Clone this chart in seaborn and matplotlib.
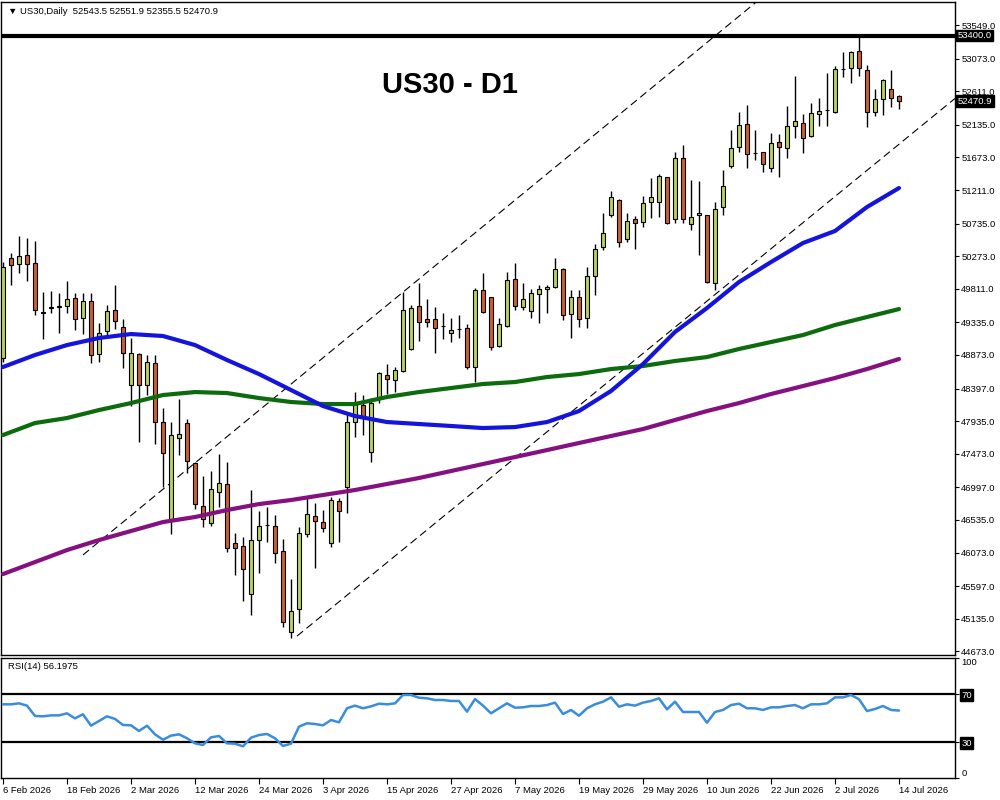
import numpy as np
import pandas as pd
import matplotlib
matplotlib.use('Agg')
import matplotlib.pyplot as plt
import matplotlib.transforms as mtransforms
import seaborn as sns

# daily candles (bar 0 = 6 Feb 2026)
opens = [48830, 50247, 50162, 50290, 50176, 49482, 49553, 49560, 49567, 49680,
         49397, 49638, 48887, 49213, 49510, 49269, 48448, 48887, 48448, 48759,
         47923, 46549, 47697, 47909, 47342, 46733, 46492, 46931, 47045, 46209,
         46166, 45486, 46251, 46460, 46450, 46095, 44948, 45273, 46336, 46591,
         46506, 46209, 46804, 47002, 47923, 48164, 47498, 48278, 48589, 48518,
         48646, 48958, 49567, 49383, 49383, 49290, 49184, 49235, 49255, 48703,
         49794, 49695, 49000, 49284, 49950, 49553, 49496, 49737, 49808, 49836,
         50091, 49454, 49695, 49397, 49992, 50403, 50856, 51069, 50516, 50800,
         50757, 51041, 51041, 51395, 50800, 51664, 50729, 50856, 50856, 49893,
         50970, 51551, 51820, 52146, 51740, 51749, 51522, 51891, 51806, 52118,
         52160, 51976, 52288, 52340, 52316, 52920, 52939, 53180, 52911, 52316,
         52500, 52642, 52543.5]
highs = [50190, 50318, 50559, 50531, 50488, 49765, 49780, 49751, 49921, 49751,
         49751, 49751, 49326, 49581, 49865, 49383, 49114, 48901, 48873, 48873,
         48122, 47923, 48249, 47966, 47357, 47158, 47229, 47470, 47357, 46350,
         46294, 46960, 46662, 46719, 46605, 46265, 45699, 46435, 46846, 46775,
         46676, 46861, 46846, 48051, 48348, 48306, 48263, 48632, 48745, 48703,
         49765, 49581, 49893, 49666, 49553, 49468, 49397, 49439, 49312, 49822,
         50035, 49700, 49397, 50049, 50176, 49893, 49808, 49865, 49865, 50247,
         50100, 49794, 49794, 50120, 50446, 50885, 51197, 51080, 50885, 50842,
         51126, 51381, 51437, 51400, 51749, 51848, 51352, 51338, 50860, 51041,
         51494, 52061, 52316, 52415, 52061, 51755, 52018, 52004, 52401, 52826,
         52288, 52443, 52514, 52869, 52968, 53166, 53180, 53400, 52982, 52642,
         52780, 52911, 52551.9]
lows = [48773, 49865, 50035, 49921, 49439, 49099, 49468, 49184, 49468, 49227,
        49170, 48759, 48773, 49128, 49241, 48688, 48150, 47640, 48306, 47612,
        47002, 46336, 47456, 47201, 46690, 46435, 46450, 46719, 46081, 45755,
        45387, 45188, 45784, 46223, 45925, 45018, 44863, 45075, 46294, 45854,
        46365, 46152, 46223, 46634, 47711, 47739, 47357, 48192, 48320, 48348,
        48632, 48943, 49071, 49269, 48901, 49099, 49057, 49114, 48674, 48490,
        49470, 48943, 48986, 49269, 49510, 49510, 49397, 49326, 49468, 49822,
        49369, 49114, 49269, 49255, 49723, 50360, 50828, 50403, 50474, 50375,
        50686, 50814, 50828, 50729, 50743, 50743, 50644, 50290, 49893, 49794,
        50856, 51522, 51749, 51522, 51636, 51466, 51466, 51395, 51664, 51948,
        51735, 51962, 52118, 52118, 52302, 52812, 52727, 52826, 52103, 52259,
        52273, 52387, 52355.5]
closes = [50120, 50148, 50275, 50162, 49510, 49468, 49540, 49570, 49666, 49383,
          49638, 48873, 49184, 49496, 49354, 48901, 48901, 48448, 48773, 47923,
          47484, 47739, 47753, 47371, 46761, 46549, 46974, 47059, 46138, 46138,
          45840, 46251, 46450, 46470, 46067, 45089, 45245, 46350, 46620, 46520,
          46421, 46818, 46662, 47923, 48178, 47994, 48192, 48618, 48533, 48660,
          49510, 49539, 49340, 49340, 49255, 49280, 49227, 49245, 48703, 49794,
          49482, 48986, 49312, 49935, 49567, 49666, 49751, 49808, 49836, 50091,
          49439, 49695, 49383, 49992, 50375, 50601, 51112, 50474, 50771, 50743,
          51026, 51112, 51409, 50743, 51664, 50800, 50828, 50885, 49907, 50941,
          51267, 51806, 52132, 51721, 51730, 51579, 51877, 51820, 52118, 52188,
          51948, 52302, 52330, 52350, 52925, 52930, 53166, 52939, 52316, 52500,
          52769, 52514, 52470.9]

# moving averages, read every 4th bar
ma_bars = list(range(0, 113, 4))
ma_blue = [48703, 48873, 49014, 49114, 49170, 49142, 49014, 48802, 48603, 48377,
           48150, 48008, 47923, 47895, 47867, 47838, 47852, 47923, 48079, 48363,
           48745, 49199, 49539, 49907, 50190, 50460, 50630, 50970, 51239]
ma_green = [47739, 47909, 47980, 48093, 48192, 48306, 48348, 48334, 48263, 48207,
            48178, 48178, 48278, 48348, 48405, 48462, 48490, 48561, 48603, 48674,
            48717, 48788, 48844, 48958, 49057, 49156, 49298, 49411, 49524]
ma_purple = [45769, 45939, 46109, 46251, 46379, 46506, 46577, 46676, 46761, 46818,
             46889, 46960, 47045, 47130, 47229, 47328, 47427, 47526, 47626, 47725,
             47824, 47952, 48079, 48192, 48320, 48433, 48547, 48674, 48816]

rsi = [61.4, 61.4, 62.2, 60.3, 51.7, 51.4, 52.2, 52.2, 53.9, 49.7,
       53.1, 43.6, 47.5, 51.4, 49.2, 44.2, 43.9, 39.2, 43.6, 36.4,
       31.9, 35.3, 36.4, 33.1, 28.9, 27.5, 33.9, 35.0, 28.9, 28.6,
       26.4, 33.6, 35.8, 36.7, 33.1, 26.7, 28.6, 42.8, 45.6, 45.0,
       43.9, 48.3, 46.4, 58.1, 60.3, 58.1, 59.7, 61.9, 61.4, 62.2,
       69.2, 69.2, 66.9, 66.4, 65.0, 65.0, 64.2, 64.2, 55.3, 65.8,
       60.3, 53.9, 58.1, 62.2, 58.6, 58.9, 60.0, 60.0, 60.8, 62.8,
       53.3, 56.7, 51.9, 58.1, 61.4, 63.6, 67.2, 59.4, 61.4, 60.3,
       62.8, 64.2, 66.4, 57.2, 63.6, 55.0, 55.0, 55.0, 46.1, 55.0,
       56.7, 60.8, 61.9, 58.1, 58.1, 56.7, 58.9, 58.9, 60.0, 60.8,
       58.1, 61.4, 61.4, 62.2, 67.2, 67.2, 69.2, 65.6, 55.8, 57.5,
       60.0, 56.7, 56.2]

# channel trendlines (bar, price anchors)
upper_bars = [10, 94]
upper_prices = [46040, 53860]
lower_bars = [36.75, 112]
lower_prices = [44890, 51860]

resistance = 53400.0
last_close = 52470.9

price_ticks = [53549, 53073, 52611, 52135, 51673, 51211, 50735, 50273, 49811, 49335,
               48873, 48397, 47935, 47473, 46997, 46535, 46073, 45597, 45135, 44673]
date_bars = list(range(0, 113, 8))
date_labels = ['6 Feb 2026', '18 Feb 2026', '2 Mar 2026', '12 Mar 2026', '24 Mar 2026',
               '3 Apr 2026', '15 Apr 2026', '27 Apr 2026', '7 May 2026', '19 May 2026',
               '29 May 2026', '10 Jun 2026', '22 Jun 2026', '2 Jul 2026', '14 Jul 2026']

bull = '#b8cf68'
bear = '#c9603a'

sns.set_theme(style='white')
plt.rcParams['font.family'] = ['Liberation Sans', 'DejaVu Sans']

fig = plt.figure(figsize=(10, 8), dpi=100)
ax = fig.add_axes([0.001, 0.18125, 0.954, 0.81625])
ax_rsi = fig.add_axes([0.001, 0.0275, 0.954, 0.15])

df = pd.DataFrame({'o': opens, 'h': highs, 'l': lows, 'c': closes})
df['bar'] = np.arange(len(df))
up = df['c'] >= df['o']

ax.vlines(df['bar'], df['l'], df['h'], color='black', lw=1, zorder=2)
ax.bar(df['bar'][up], (df['c'] - df['o'])[up], bottom=df['o'][up], width=0.62,
       color=bull, edgecolor='black', linewidth=0.8, zorder=3)
ax.bar(df['bar'][~up], (df['o'] - df['c'])[~up], bottom=df['c'][~up], width=0.62,
       color=bear, edgecolor='black', linewidth=0.8, zorder=3)

sns.lineplot(x=ma_bars, y=ma_purple, color='#86107f', linewidth=3, ax=ax, zorder=4)
sns.lineplot(x=ma_bars, y=ma_green, color='#0c6b0c', linewidth=3, ax=ax, zorder=4)
sns.lineplot(x=ma_bars, y=ma_blue, color='#1414dc', linewidth=3, ax=ax, zorder=4)

xmax = 119.0
for bx, py in [(upper_bars, upper_prices), (lower_bars, lower_prices)]:
    slope = (py[1] - py[0]) / (bx[1] - bx[0])
    ax.plot([bx[0], xmax], [py[0], py[0] + slope * (xmax - bx[0])],
            color='black', lw=0.8, ls=(0, (7, 4)), zorder=2)

ax.axhline(resistance, color='black', lw=3, zorder=5)

ax.set_xlim(-0.25, xmax)
ax.set_ylim(44622, 53875)
ax.set_xticks([])
ax.yaxis.tick_right()
ax.set_yticks(price_ticks)
ax.set_yticklabels(['%.1f' % t for t in price_ticks])
ax.tick_params(axis='y', direction='out', length=3, width=0.8, pad=1.5,
               labelsize=6.8, colors='black', right=True)
ax.set_xlabel('')
ax.set_ylabel('')

trans = mtransforms.blended_transform_factory(ax.transAxes, ax.transData)
for val in [resistance, last_close]:
    ax.text(1.003, val, '%.1f' % val, transform=trans, ha='left', va='center',
            fontsize=6.8, color='white',
            bbox=dict(boxstyle='square,pad=0.15', fc='black', ec='black'))

ax.text(0.0075, 0.986, '\u25bc US30,Daily  52543.5 52551.9 52355.5 52470.9',
        transform=ax.transAxes, ha='left', va='center', fontsize=6.8, color='black')
ax.text(0.4707, 0.873, 'US30 - D1', transform=ax.transAxes, ha='center', va='center',
        fontsize=21, fontweight='bold', color='black')

# RSI pane
sns.lineplot(x=df['bar'], y=rsi, color='#3a8ddc', linewidth=1.8, ax=ax_rsi, zorder=3)
ax_rsi.axhline(70, color='black', lw=1.6, zorder=2)
ax_rsi.axhline(30, color='black', lw=1.6, zorder=2)
ax_rsi.set_xlim(-0.25, xmax)
ax_rsi.set_ylim(0, 100)
ax_rsi.yaxis.tick_right()
ax_rsi.set_yticks([0, 30, 70, 100])
ax_rsi.set_yticklabels(['0', '30', '70', '100'])
ax_rsi.tick_params(axis='y', direction='out', length=3, width=0.8, pad=1.5,
                   labelsize=6.8, colors='black', right=True)
for lab in ax_rsi.get_yticklabels():
    txt = lab.get_text()
    if txt in ('30', '70'):
        lab.set_color('white')
        lab.set_bbox(dict(boxstyle='square,pad=0.15', fc='black', ec='black'))
    elif txt == '100':
        lab.set_va('top')
    elif txt == '0':
        lab.set_va('bottom')
ax_rsi.set_xticks(date_bars)
ax_rsi.set_xticklabels(date_labels)
ax_rsi.tick_params(axis='x', direction='out', length=4, width=0.8, pad=2,
                   labelsize=6.8, colors='black', bottom=True)
for lab in ax_rsi.get_xticklabels():
    lab.set_ha('left')
ax_rsi.set_xlabel('')
ax_rsi.set_ylabel('')
ax_rsi.text(0.0075, 0.93, 'RSI(14) 56.1975', transform=ax_rsi.transAxes,
            ha='left', va='center', fontsize=6.8, color='black')

for a in (ax, ax_rsi):
    for sp in a.spines.values():
        sp.set_color('black')
        sp.set_linewidth(1)

fig.savefig('out.png', dpi=100)
